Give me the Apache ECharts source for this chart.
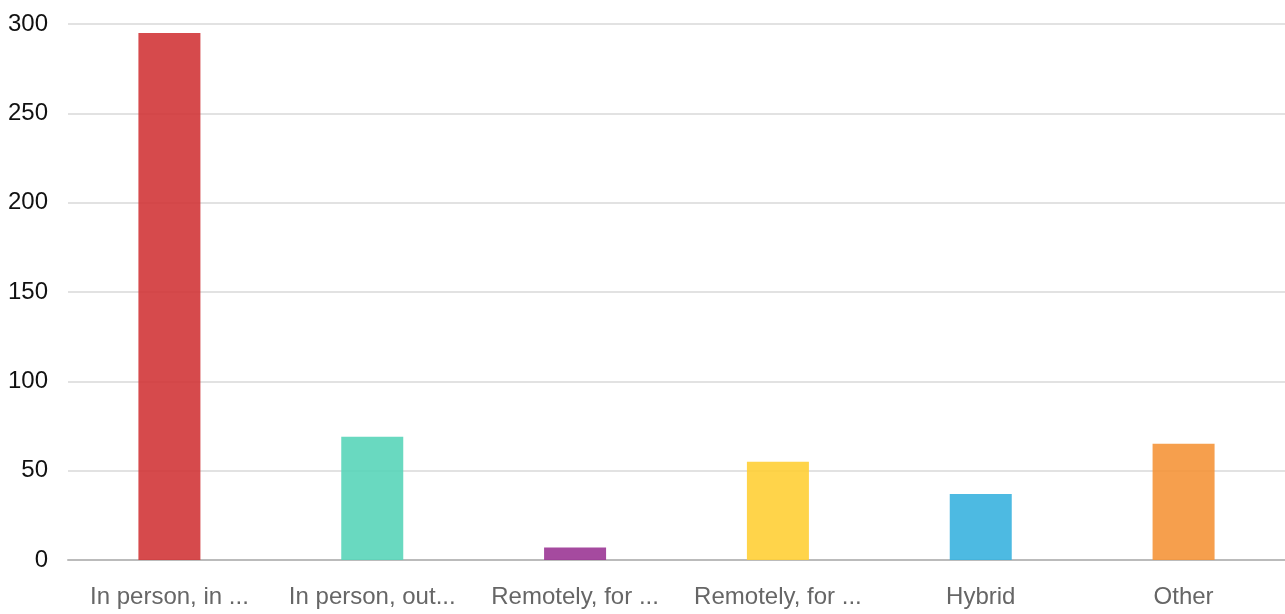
<!DOCTYPE html>
<html>
<head>
<meta charset="utf-8">
<script src="https://cdn.jsdelivr.net/npm/echarts@6/dist/echarts.min.js"></script>
<style>
    html, body { margin: 0; padding: 0; background: #fff; }
    #chart { width: 1285px; height: 614px; }
</style>
</head>
<body>
<div id="chart"></div>
<script>
var categories = [
    'In person, in my home country',
    'In person, outside my home country',
    'Remotely, for a company in my country',
    'Remotely, for a company abroad',
    'Hybrid',
    'Other'
];
var counts = [295, 69, 7, 55, 37, 65];
var barColors = ['#d13639', '#59d5b9', '#9b3695', '#ffcf36', '#3ab3df', '#f5953a'];

var chart = echarts.init(document.getElementById('chart'));

// one colour per bar
var barData = counts.map(function (v, i) {
    return { value: v, itemStyle: { color: barColors[i], opacity: 0.9 } };
});

chart.setOption({
    animation: false,
    grid: { left: 68, right: 0, top: 24, bottom: 54 },
    xAxis: {
        type: 'category',
        data: categories,
        axisLine: { lineStyle: { color: '#bbb', width: 2 } },
        axisTick: { alignWithLabel: true, length: 6, lineStyle: { color: '#777' } },
        axisLabel: {
            interval: 0,
            margin: 25,
            color: '#666',
            fontFamily: 'Liberation Sans',
            fontSize: 24,
            formatter: function (name) {
                return name.length > 14 ? name.slice(0, 14) + '...' : name;
            }
        }
    },
    yAxis: {
        type: 'value',
        min: 0,
        max: 300,
        interval: 50,
        axisLine: { show: false },
        axisTick: { show: false },
        splitLine: { lineStyle: { color: '#d9d9d9', width: 1.5 } },
        axisLabel: { margin: 20, color: '#111', fontFamily: 'Liberation Sans', fontSize: 24 }
    },
    series: [{
        type: 'bar',
        data: barData,
        barWidth: 62
    }]
});
</script>
</body>
</html>
